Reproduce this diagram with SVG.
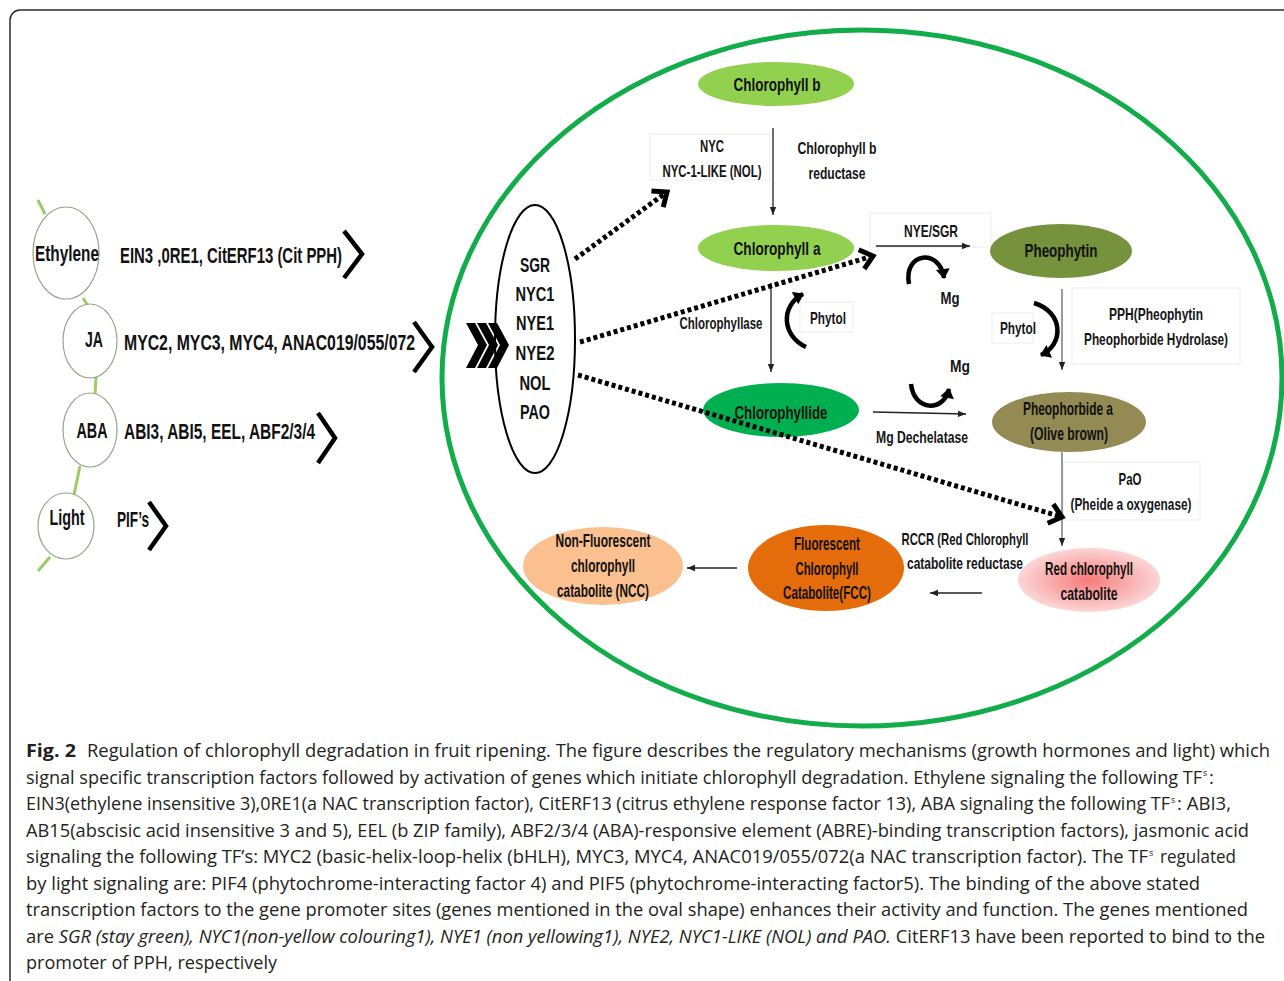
<svg xmlns="http://www.w3.org/2000/svg" width="1284" height="981" viewBox="0 0 1284 981">
<style>
.lbl{font-family:"Liberation Sans Narrow","Liberation Sans",Arial,sans-serif;font-weight:bold;fill:#111;text-anchor:middle;font-size:19px}
.lbs{font-family:"Liberation Sans Narrow","Liberation Sans",Arial,sans-serif;font-weight:bold;fill:#151515;text-anchor:middle;font-size:17px}
.gene{font-family:"Liberation Sans Narrow","Liberation Sans",Arial,sans-serif;font-weight:bold;fill:#111;text-anchor:middle;font-size:21px}
.tf{font-family:"Liberation Sans Narrow","Liberation Sans",Arial,sans-serif;font-weight:bold;fill:#111;font-size:22px}
.cap{font-family:"Open Sans","Noto Sans","Liberation Sans",sans-serif;fill:#231f20;font-size:18.5px}
.sup{font-family:"Open Sans","Noto Sans","Liberation Sans",sans-serif;fill:#231f20;font-size:9px}
.hormone{fill:#fff;stroke:#9aa58a;stroke-width:1.2}
.vine{stroke:#9ccc65;stroke-width:3;fill:none}
.chev{fill:none;stroke:#000;stroke-width:4.5;stroke-linejoin:miter}
.thin{stroke:#222;stroke-width:1.3;fill:none;marker-end:url(#tri)}
.gray{stroke:#666;stroke-width:1.3;fill:none;marker-end:url(#tri)}
.dot{stroke:#000;stroke-width:5;stroke-dasharray:4 3;fill:none;marker-end:url(#vhead)}
.curve{stroke:#000;stroke-width:4.5;fill:none;marker-end:url(#fat)}
.fbox{fill:#fff;stroke:#ececec;stroke-width:1}
</style>
<defs>
<marker id="tri" markerUnits="userSpaceOnUse" markerWidth="9" markerHeight="9" refX="8" refY="4" orient="auto">
<path d="M0,0.8 L8,4 L0,7.2 Z" fill="#222"/>
</marker>
<marker id="vhead" markerUnits="userSpaceOnUse" markerWidth="26" markerHeight="26" refX="20" refY="13" orient="auto" overflow="visible">
<path d="M8,3 L20,13 L8,23" fill="none" stroke="#000" stroke-width="5" stroke-dasharray="none"/>
</marker>
<marker id="fat" markerUnits="userSpaceOnUse" markerWidth="14" markerHeight="14" refX="9" refY="7" orient="auto" overflow="visible">
<path d="M0,0 L10,7 L0,14 Z" fill="#000"/>
</marker>
<radialGradient id="pink" cx="0.5" cy="0.5" r="0.5">
<stop offset="0" stop-color="#f67a7a"/>
<stop offset="1" stop-color="#fcd6d6"/>
</radialGradient>
</defs>

<rect x="10" y="10" width="1300" height="1000" rx="10" fill="#fff" stroke="#2b2b2b" stroke-width="1.5"/>

<g id="cell">
<ellipse cx="862" cy="378" rx="420" ry="348" fill="none" stroke="#12ad4a" stroke-width="5"/>
</g>

<g id="vine">
<path class="vine" d="M38,200 L45,214 M83,298 L88,306 M96,377 L95,394 M80,466 L74,495 M50,557 L38,571"/>
</g>

<g id="ethylene">
<ellipse class="hormone" cx="66" cy="253" rx="33" ry="46"/>
<text class="tf" x="67" y="261" text-anchor="middle" textLength="64" lengthAdjust="spacingAndGlyphs">Ethylene</text>
<text class="tf" x="120" y="263" textLength="222" lengthAdjust="spacingAndGlyphs">EIN3 ,0RE1, CitERF13 (Cit PPH)</text>
<path class="chev" d="M344,231 L362,254 L344,278"/>
</g>
<g id="ja">
<ellipse class="hormone" cx="90" cy="341" rx="27" ry="37"/>
<text class="tf" x="94" y="347" text-anchor="middle" textLength="18" lengthAdjust="spacingAndGlyphs">JA</text>
<text class="tf" x="124" y="350" textLength="291" lengthAdjust="spacingAndGlyphs">MYC2, MYC3, MYC4, ANAC019/055/072</text>
<path class="chev" d="M414,322 L432,347 L414,372"/>
</g>
<g id="aba">
<ellipse class="hormone" cx="90" cy="430" rx="27" ry="37"/>
<text class="tf" x="92" y="438" text-anchor="middle" textLength="31" lengthAdjust="spacingAndGlyphs">ABA</text>
<text class="tf" x="124" y="439" textLength="191" lengthAdjust="spacingAndGlyphs">ABI3, ABI5, EEL, ABF2/3/4</text>
<path class="chev" d="M318,413 L335,438 L318,463"/>
</g>
<g id="light">
<ellipse class="hormone" cx="66" cy="526" rx="28" ry="33"/>
<text class="tf" x="67" y="525" text-anchor="middle" textLength="35" lengthAdjust="spacingAndGlyphs">Light</text>
<text class="tf" x="117" y="527" textLength="32" lengthAdjust="spacingAndGlyphs">PIF’s</text>
<path class="chev" d="M149,502 L166,526 L149,550"/>
</g>

<g id="triple-chevron" fill="#000">
<polygon points="466,323 475,323 487,345 475,368 466,368 478,345"/>
<polygon points="477,323 486,323 498,345 486,368 477,368 489,345"/>
<polygon points="488,323 497,323 509,345 497,368 488,368 500,345"/>
</g>

<g id="genes">
<ellipse cx="535" cy="339" rx="40" ry="134" fill="none" stroke="#000" stroke-width="2"/>
<text class="gene" x="535" y="272" textLength="30" lengthAdjust="spacingAndGlyphs">SGR</text>
<text class="gene" x="535" y="301" textLength="39" lengthAdjust="spacingAndGlyphs">NYC1</text>
<text class="gene" x="535" y="330" textLength="38" lengthAdjust="spacingAndGlyphs">NYE1</text>
<text class="gene" x="535" y="360" textLength="39" lengthAdjust="spacingAndGlyphs">NYE2</text>
<text class="gene" x="535" y="390" textLength="31" lengthAdjust="spacingAndGlyphs">NOL</text>
<text class="gene" x="535" y="419" textLength="30" lengthAdjust="spacingAndGlyphs">PAO</text>
</g>

<g id="label-boxes">
<rect class="fbox" x="650" y="134" width="120" height="46"/>
<rect class="fbox" x="870" y="213" width="121" height="34"/>
<rect class="fbox" x="800" y="302" width="53" height="30"/>
<rect class="fbox" x="992" y="313" width="41" height="30"/>
<rect class="fbox" x="1072" y="288" width="168" height="76"/>
<rect class="fbox" x="1063" y="462" width="137" height="58"/>
</g>

<g id="chlorophyll-b">
<ellipse cx="776" cy="84" rx="78" ry="22" fill="#92d050"/>
<text class="lbl" x="777" y="91" textLength="87" lengthAdjust="spacingAndGlyphs">Chlorophyll  b</text>
</g>
<g id="nyc-label">
<text class="lbs" x="712" y="152" textLength="24" lengthAdjust="spacingAndGlyphs">NYC</text>
<text class="lbs" x="712" y="177" textLength="99" lengthAdjust="spacingAndGlyphs">NYC-1-LIKE (NOL)</text>
</g>
<g id="chlb-reductase-label">
<text class="lbs" x="837" y="154" textLength="79" lengthAdjust="spacingAndGlyphs">Chlorophyll  b</text>
<text class="lbs" x="837" y="179" textLength="57" lengthAdjust="spacingAndGlyphs">reductase</text>
</g>
<g id="chlorophyll-a">
<ellipse cx="776" cy="248" rx="78" ry="23" fill="#92d050"/>
<text class="lbl" x="777" y="255" textLength="87" lengthAdjust="spacingAndGlyphs">Chlorophyll  a</text>
</g>
<g id="nye-sgr-label">
<text class="lbs" x="931" y="237" textLength="54" lengthAdjust="spacingAndGlyphs">NYE/SGR</text>
</g>
<g id="pheophytin">
<ellipse cx="1061" cy="251" rx="71" ry="27" fill="#76923c"/>
<text class="lbl" x="1061" y="257" textLength="73" lengthAdjust="spacingAndGlyphs">Pheophytin</text>
</g>
<g id="chlorophyllase-label">
<text class="lbs" x="721" y="329" textLength="83" lengthAdjust="spacingAndGlyphs">Chlorophyllase</text>
</g>
<g id="phytol-1">
<text class="lbs" x="828" y="324" textLength="36" lengthAdjust="spacingAndGlyphs">Phytol</text>
</g>
<g id="mg-1">
<text class="lbs" x="950" y="304" textLength="19" lengthAdjust="spacingAndGlyphs">Mg</text>
</g>
<g id="phytol-2">
<text class="lbs" x="1018" y="334" textLength="36" lengthAdjust="spacingAndGlyphs">Phytol</text>
</g>
<g id="pph-label">
<text class="lbs" x="1156" y="320" textLength="94" lengthAdjust="spacingAndGlyphs">PPH(Pheophytin</text>
<text class="lbs" x="1156" y="345" textLength="144" lengthAdjust="spacingAndGlyphs">Pheophorbide Hydrolase)</text>
</g>
<g id="mg-2">
<text class="lbs" x="960" y="372" textLength="20" lengthAdjust="spacingAndGlyphs">Mg</text>
</g>
<g id="chlorophyllide">
<ellipse cx="781" cy="410" rx="78" ry="27" fill="#00b050"/>
<text class="lbl" x="781" y="419" textLength="93" lengthAdjust="spacingAndGlyphs">Chlorophyllide</text>
</g>
<g id="mg-dechelatase-label">
<text class="lbs" x="922" y="443" textLength="92" lengthAdjust="spacingAndGlyphs">Mg Dechelatase</text>
</g>
<g id="pheophorbide-a">
<ellipse cx="1069" cy="422" rx="77" ry="30" fill="#948a54"/>
<text class="lbl" x="1068" y="415" textLength="90" lengthAdjust="spacingAndGlyphs">Pheophorbide a</text>
<text class="lbl" x="1069" y="440" textLength="78" lengthAdjust="spacingAndGlyphs">(Olive brown)</text>
</g>
<g id="pao-label">
<text class="lbs" x="1130" y="485" textLength="23" lengthAdjust="spacingAndGlyphs">PaO</text>
<text class="lbs" x="1131" y="510" textLength="121" lengthAdjust="spacingAndGlyphs">(Pheide a oxygenase)</text>
</g>
<g id="red-chlorophyll-catabolite">
<ellipse cx="1089" cy="580" rx="71" ry="32" fill="url(#pink)"/>
<text class="lbl" x="1089" y="575" textLength="88" lengthAdjust="spacingAndGlyphs">Red chlorophyll</text>
<text class="lbl" x="1089" y="600" textLength="57" lengthAdjust="spacingAndGlyphs">catabolite</text>
</g>
<g id="rccr-label">
<text class="lbs" x="965" y="545" textLength="127" lengthAdjust="spacingAndGlyphs">RCCR (Red Chlorophyll</text>
<text class="lbs" x="965" y="569" textLength="116" lengthAdjust="spacingAndGlyphs">catabolite reductase</text>
</g>
<g id="fcc">
<ellipse cx="826" cy="568" rx="78" ry="43" fill="#e46c0a"/>
<text class="lbl" x="827" y="550" textLength="66" lengthAdjust="spacingAndGlyphs">Fluorescent</text>
<text class="lbl" x="827" y="575" textLength="63" lengthAdjust="spacingAndGlyphs">Chlorophyll</text>
<text class="lbl" x="827" y="599" textLength="88" lengthAdjust="spacingAndGlyphs">Catabolite(FCC)</text>
</g>
<g id="ncc">
<ellipse cx="603" cy="566" rx="80" ry="39" fill="#fac08f"/>
<text class="lbl" x="603" y="547" textLength="95" lengthAdjust="spacingAndGlyphs">Non-Fluorescent</text>
<text class="lbl" x="603" y="572" textLength="64" lengthAdjust="spacingAndGlyphs">chlorophyll</text>
<text class="lbl" x="603" y="597" textLength="92" lengthAdjust="spacingAndGlyphs">catabolite (NCC)</text>
</g>

<g id="connectors">
<line class="thin" x1="773" y1="128" x2="773" y2="215"/>
<line class="thin" x1="771" y1="283" x2="771" y2="372"/>
<line class="thin" x1="876" y1="246" x2="970" y2="246"/>
<line class="thin" x1="873" y1="412" x2="966" y2="414"/>
<line class="gray" x1="1062" y1="289" x2="1062" y2="370"/>
<line class="gray" x1="1062" y1="452" x2="1062" y2="546"/>
<line class="thin" x1="982" y1="593" x2="930" y2="593"/>
<line class="thin" x1="737" y1="568" x2="687" y2="568"/>
<path class="curve" d="M806,347 C782,336 780,306 803,294"/>
<path class="curve" d="M909,284 C903,252 940,248 944,278"/>
<path class="curve" d="M1034,303 C1064,312 1064,345 1041,355"/>
<path class="curve" d="M911,384 C914,412 944,412 949,389"/>
<line class="dot" x1="575" y1="259" x2="667" y2="192"/>
<line class="dot" x1="580" y1="342" x2="873" y2="256"/>
<line class="dot" x1="578" y1="375" x2="1062" y2="517"/>
</g>

<g id="caption">
<text class="cap" x="26" y="757" font-weight="bold" textLength="50" lengthAdjust="spacingAndGlyphs">Fig. 2</text>
<text class="cap" x="87" y="757" textLength="1183" lengthAdjust="spacingAndGlyphs">Regulation of chlorophyll degradation in fruit ripening. The figure describes the regulatory mechanisms (growth hormones and light) which</text>
<text class="cap" x="26" y="783.5" textLength="1176" lengthAdjust="spacingAndGlyphs">signal specific transcription factors followed by activation of genes which initiate chlorophyll degradation. Ethylene signaling the following TF</text>
<text class="sup" x="1203" y="776">s</text>
<text class="cap" x="1209" y="783.5">:</text>
<text class="cap" x="26" y="810" textLength="1144" lengthAdjust="spacingAndGlyphs">EIN3(ethylene insensitive 3),0RE1(a NAC transcription factor), CitERF13 (citrus ethylene response factor 13), ABA signaling the following TF</text>
<text class="sup" x="1171" y="802.5">s</text>
<text class="cap" x="1177" y="810" textLength="54" lengthAdjust="spacingAndGlyphs">: ABI3,</text>
<text class="cap" x="26" y="836.5" textLength="1223" lengthAdjust="spacingAndGlyphs">AB15(abscisic acid insensitive 3 and 5), EEL (b ZIP family), ABF2/3/4 (ABA)-responsive element (ABRE)-binding transcription factors), jasmonic acid</text>
<text class="cap" x="26" y="863" textLength="1122" lengthAdjust="spacingAndGlyphs">signaling the following TF’s: MYC2 (basic-helix-loop-helix (bHLH), MYC3, MYC4, ANAC019/055/072(a NAC transcription factor). The TF</text>
<text class="sup" x="1149" y="855.5">s</text>
<text class="cap" x="1160" y="863" textLength="76" lengthAdjust="spacingAndGlyphs">regulated</text>
<text class="cap" x="26" y="889.5" textLength="1174" lengthAdjust="spacingAndGlyphs">by light signaling are: PIF4 (phytochrome-interacting factor 4) and PIF5 (phytochrome-interacting factor5). The binding of the above stated</text>
<text class="cap" x="26" y="916" textLength="1222" lengthAdjust="spacingAndGlyphs">transcription factors to the gene promoter sites (genes mentioned in the oval shape) enhances their activity and function. The genes mentioned</text>
<text class="cap" x="26" y="942.5" textLength="1239" lengthAdjust="spacingAndGlyphs">are <tspan font-style="italic">SGR (stay green), NYC1(non-yellow colouring1), NYE1 (non yellowing1), NYE2, NYC1-LIKE (NOL) and PAO.</tspan> CitERF13 have been reported to bind to the</text>
<text class="cap" x="26" y="969" textLength="251" lengthAdjust="spacingAndGlyphs">promoter of PPH, respectively</text>
</g>
</svg>
